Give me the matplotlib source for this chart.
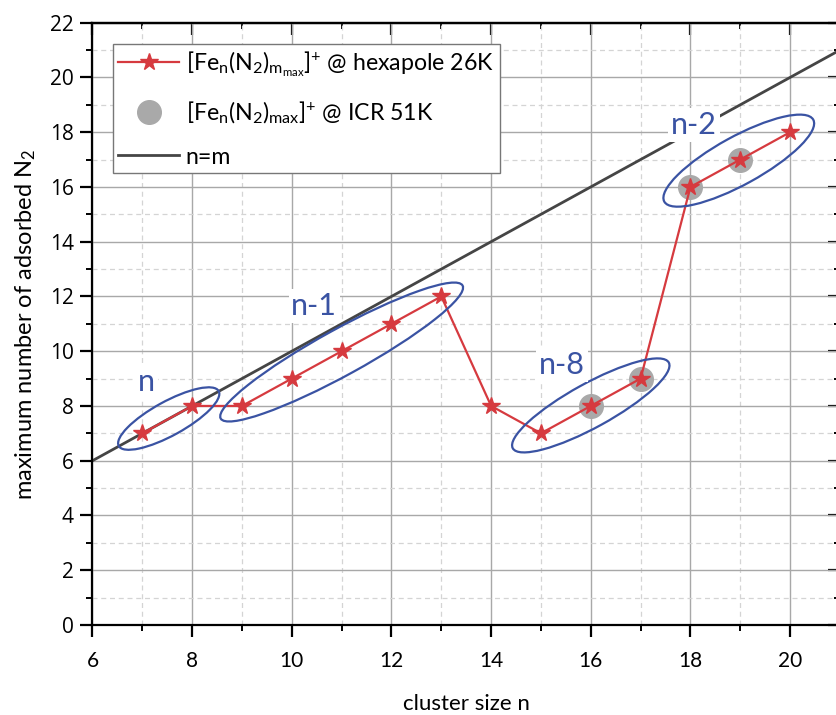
import matplotlib
matplotlib.use("Agg")
import matplotlib.pyplot as plt
from matplotlib.patches import Ellipse
from matplotlib.transforms import ScaledTranslation
from matplotlib.ticker import MultipleLocator

# data
cluster_size = [7, 8, 9, 10, 11, 12, 13, 14, 15, 16, 17, 18, 19, 20]
max_n2_hexapole = [7, 8, 8, 9, 10, 11, 12, 8, 7, 8, 9, 16, 17, 18]
icr_size = [16, 17, 18, 19]
max_n2_icr = [8, 9, 16, 17]
diag = [6, 21]

# annotation groups: label, text pos, ellipse centre, semi-axes (px)
group_labels = ["n", "n-1", "n-8", "n-2"]
label_xy = [(7.09, 8.87), (10.45, 11.65), (15.42, 9.5), (18.07, 18.26)]
ell_centre = [(7.53, 7.54), (11.0, 9.97), (16.0, 8.02), (18.97, 16.96)]
ell_semi = [(57, 17), (138, 23), (89, 22), (85, 24)]

RED = "#d63a3f"
BLUE = "#3a53a3"

plt.rcParams["font.family"] = ["Lato", "DejaVu Sans"]
plt.rcParams["mathtext.fontset"] = "custom"
plt.rcParams["mathtext.rm"] = "Lato"
plt.rcParams["mathtext.it"] = "Lato:italic"

DPI = 100
fig = plt.figure(figsize=(8.37, 7.15), dpi=DPI)
ax = fig.add_axes([0.1105, 0.1259, 0.893, 0.8424])

ax.set_xlim(6, 21)
ax.set_ylim(0, 22)
ax.xaxis.set_major_locator(MultipleLocator(2))
ax.xaxis.set_minor_locator(MultipleLocator(1))
ax.yaxis.set_major_locator(MultipleLocator(2))
ax.yaxis.set_minor_locator(MultipleLocator(1))

ax.grid(True, which="major", color="#a8a8a8", lw=1.0)
ax.grid(True, which="minor", color="#d4d4d4", lw=0.9, ls=(0, (4, 3)))
ax.set_axisbelow(True)

for s in ax.spines.values():
    s.set_linewidth(1.6)
    s.set_color("black")

ax.tick_params(which="major", direction="out", length=8.6, width=1.6,
               top=False, right=False, labelsize=15)
ax.tick_params(which="minor", direction="out", length=4.3, width=1.4,
               top=False, right=False)
ax.tick_params(axis="x", which="major", pad=10)
ax.tick_params(axis="y", which="major", pad=5)
# inward ticks on top/right
for side in ("top", "right"):
    sec = ax.secondary_xaxis("top") if side == "top" else ax.secondary_yaxis("right")
    axis = sec.xaxis if side == "top" else sec.yaxis
    axis.set_major_locator(MultipleLocator(2))
    axis.set_minor_locator(MultipleLocator(1))
    sec.tick_params(which="major", direction="in", length=8.6, width=1.6)
    sec.tick_params(which="minor", direction="in", length=4.3, width=1.4)
    sec.spines[side].set_linewidth(1.6)
    axis.set_ticklabels([])

for lbl in ax.get_yticklabels():
    lbl.set_fontfamily("Open Sans")

ax.plot(diag, diag, color="#454545", lw=2.0, label="n=m", zorder=2)
ax.plot(icr_size, max_n2_icr, ls="none", marker="o", ms=17,
        color="#a9a9a9", label=r"$[\mathrm{Fe_n(N_2)_{max}}]^{+}$ @ ICR 51K", zorder=3)
ax.plot(cluster_size, max_n2_hexapole, color=RED, lw=1.6, marker="*", ms=13,
        label=r"$[\mathrm{Fe_n(N_2)_{m_{max}}}]^{+}$ @ hexapole 26K", zorder=4)

for c, (a, b) in zip(ell_centre, ell_semi):
    tr = fig.dpi_scale_trans + ScaledTranslation(c[0], c[1], ax.transData)
    e = Ellipse((0, 0), 2 * a / DPI, 2 * b / DPI, angle=28.8, transform=tr,
                fill=False, ec=BLUE, lw=1.6, zorder=5)
    ax.add_patch(e)

for t, (x, y) in zip(group_labels, label_xy):
    ax.text(x, y, t, color=BLUE, fontsize=22, ha="center", va="center", zorder=6,
            bbox=dict(fc="white", ec="none", pad=2))

h, l = ax.get_legend_handles_labels()
order = [2, 1, 0]
leg = ax.legend([h[i] for i in order], [l[i] for i in order],
                loc="upper left", bbox_to_anchor=(0.027, 0.965), borderaxespad=0,
                fontsize=16.7, handlelength=2.6, handletextpad=0.3, borderpad=0.25,
                labelspacing=0.9, fancybox=False,
                edgecolor="#777777", framealpha=1)
leg.get_frame().set_linewidth(1.0)

ax.set_xlabel("cluster size n", fontsize=16, labelpad=17)
ax.set_ylabel(r"maximum number of adsorbed N$_2$", fontsize=17, labelpad=8)

fig.savefig("out.png", dpi=DPI)
